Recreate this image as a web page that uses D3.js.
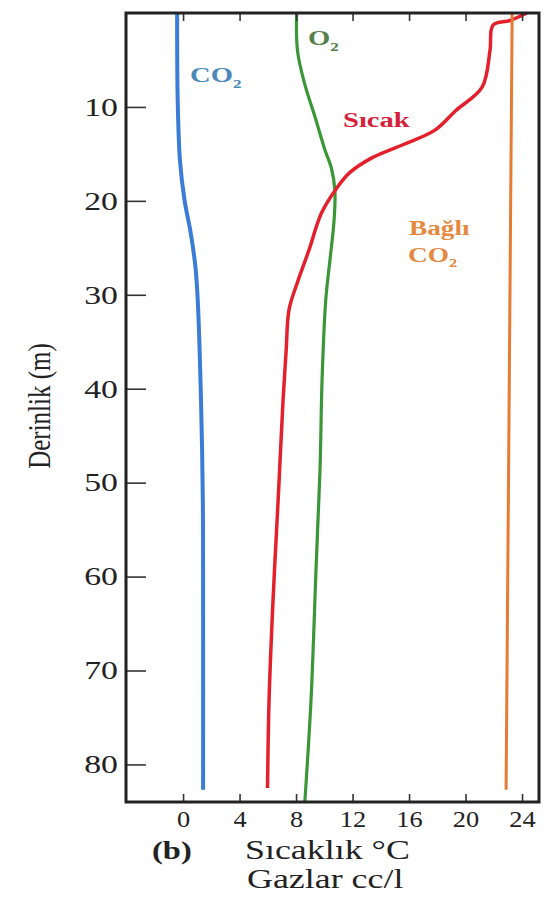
<!DOCTYPE html>
<html>
<head>
<meta charset="utf-8">
<script src="https://cdn.jsdelivr.net/npm/d3@7"></script>
<style>
  body { margin: 0; background: #fff; }
  svg { display: block; }
</style>
</head>
<body>
<div id="chart"></div>
<script>
// depth (m) and value (°C or cc/l)
const co2Depth = [0, 9.3, 15.7, 19.9, 23.5, 27.1, 30.6, 41.2, 51.9, 62.5, 82.7];
const co2Value = [-0.42, -0.38, -0.22, 0.1, 0.55, 0.88, 1.04, 1.27, 1.4, 1.42, 1.42];

const o2Depth = [0, 4, 7.5, 11.1, 14.6, 16.5, 18.9, 22.1, 26.3, 30.6, 39.1, 48.4, 59, 73.1, 84];
const o2Value = [8.04, 8.1, 8.6, 9.35, 10.05, 10.5, 10.75, 10.69, 10.4, 10.1, 9.84, 9.7, 9.42, 9.06, 8.62];

const tempDepth = [0, 0.8, 1.3, 4.0, 7.9, 10.4, 12.5, 14.0, 15.4, 17.0, 18.6, 21.3, 25.3, 28.8, 31.6, 35.9, 41.2, 51.9, 62.5, 73.1, 82.5];
const tempValue = [24.35, 23.15, 21.95, 21.73, 21.17, 19.3, 17.8, 15.6, 13.4, 11.8, 10.9, 9.8, 8.9, 8.07, 7.5, 7.3, 7.08, 6.73, 6.37, 6.09, 5.98];

const boundDepth = [0, 82.7];
const boundValue = [23.3, 22.87];

const xTicks = [0, 4, 8, 12, 16, 20, 24];
const yTicks = [10, 20, 30, 40, 50, 60, 70, 80];

const width = 548, height = 898;
const serif = "'Liberation Serif', 'Times New Roman', serif";
const sx = 1.3; // the scanned figure is stretched sideways

const svg = d3.select("#chart").append("svg")
    .attr("width", width)
    .attr("height", height)
    .style("background", "#fff");

const x = d3.scaleLinear().domain([-4.04, 25.2]).range([126, 539]);
const y = d3.scaleLinear().domain([0, 84]).range([13, 802]);

const series = [
    { depth: co2Depth, value: co2Value, color: "#3b7dd6", w: 4 },
    { depth: o2Depth, value: o2Value, color: "#3a9636", w: 3.2 },
    { depth: tempDepth, value: tempValue, color: "#e3212c", w: 3.5 },
    { depth: boundDepth, value: boundValue, color: "#e67b34", w: 3 }
];

const line = d3.line()
    .x(d => x(d[1]))
    .y(d => y(d[0]))
    .curve(d3.curveCatmullRom.alpha(0.5));

svg.append("g")
    .selectAll("path")
    .data(series)
    .enter()
    .append("path")
    .attr("d", s => line(d3.zip(s.depth, s.value)))
    .attr("fill", "none")
    .attr("stroke", s => s.color)
    .attr("stroke-width", s => s.w)
    .attr("stroke-linejoin", "round");

// axes, ticks point inside
const yAxis = svg.append("g")
    .attr("transform", `translate(${x.range()[0]},0)`)
    .call(d3.axisLeft(y).tickValues(yTicks).tickSize(-20).tickPadding(8));

const xAxis = svg.append("g")
    .attr("transform", `translate(0,${y.range()[1]})`)
    .call(d3.axisBottom(x).tickValues(xTicks).tickSize(-8).tickPadding(8));

const xTop = svg.append("g")
    .attr("transform", `translate(0,${y.range()[0]})`)
    .call(d3.axisTop(x).tickValues(xTicks).tickSize(-8).tickFormat(""));

[[yAxis, 1.3, 26], [xAxis, 1.1, 24], [xTop, 1, 24]].forEach(([g, s, fs]) => {
    g.select(".domain").remove();
    g.selectAll(".tick line").attr("stroke", "#333").attr("stroke-width", 1.6);
    g.selectAll(".tick text")
        .attr("font-family", serif)
        .attr("font-size", fs)
        .attr("fill", "#222")
        .each(function () {
            const t = d3.select(this);
            const tx = +t.attr("x") || 0;
            t.attr("x", 0).attr("transform", `translate(${tx},0) scale(${s},1)`);
        });
});

// frame
svg.append("rect")
    .attr("x", x.range()[0])
    .attr("y", y.range()[0])
    .attr("width", x.range()[1] - x.range()[0])
    .attr("height", y.range()[1] - y.range()[0])
    .attr("fill", "none")
    .attr("stroke", "#222")
    .attr("stroke-width", 3);

// stretched text helper
function label(px, py, txt, opts) {
    const g = svg.append("g").attr("transform", `translate(${px},${py}) scale(${opts.sx || sx},1)`);
    const t = g.append("text")
        .attr("font-family", serif)
        .attr("font-size", opts.size)
        .attr("font-weight", opts.bold ? "bold" : "normal")
        .attr("fill", opts.color || "#222")
        .text(txt);
    if (opts.sub) {
        t.append("tspan")
            .attr("font-size", opts.size * 0.6)
            .attr("dy", opts.size * 0.25)
            .text(opts.sub);
    }
    return g;
}

label(190, 82, "CO", { size: 22, bold: true, color: "#4a8ab8", sub: "2" });
label(308, 45, "O", { size: 22, bold: true, color: "#56804a", sub: "2" });
label(343, 127, "Sıcak", { size: 22, bold: true, color: "#d61f3a" });
label(409, 235, "Bağlı", { size: 21, bold: true, color: "#e4893f" });
label(408, 262, "CO", { size: 21, bold: true, color: "#e4893f", sub: "2" });

label(152, 859, "(b)", { size: 25, bold: true });
label(245, 859, "Sıcaklık °C", { size: 27, sx: 1.33 });
label(247, 888, "Gazlar cc/l", { size: 27, sx: 1.33 });

svg.append("text")
    .attr("transform", `translate(50,406) scale(${sx},1) rotate(-90)`)
    .attr("text-anchor", "middle")
    .attr("font-family", serif)
    .attr("font-size", 25)
    .attr("fill", "#222")
    .text("Derinlik (m)");
</script>
</body>
</html>
